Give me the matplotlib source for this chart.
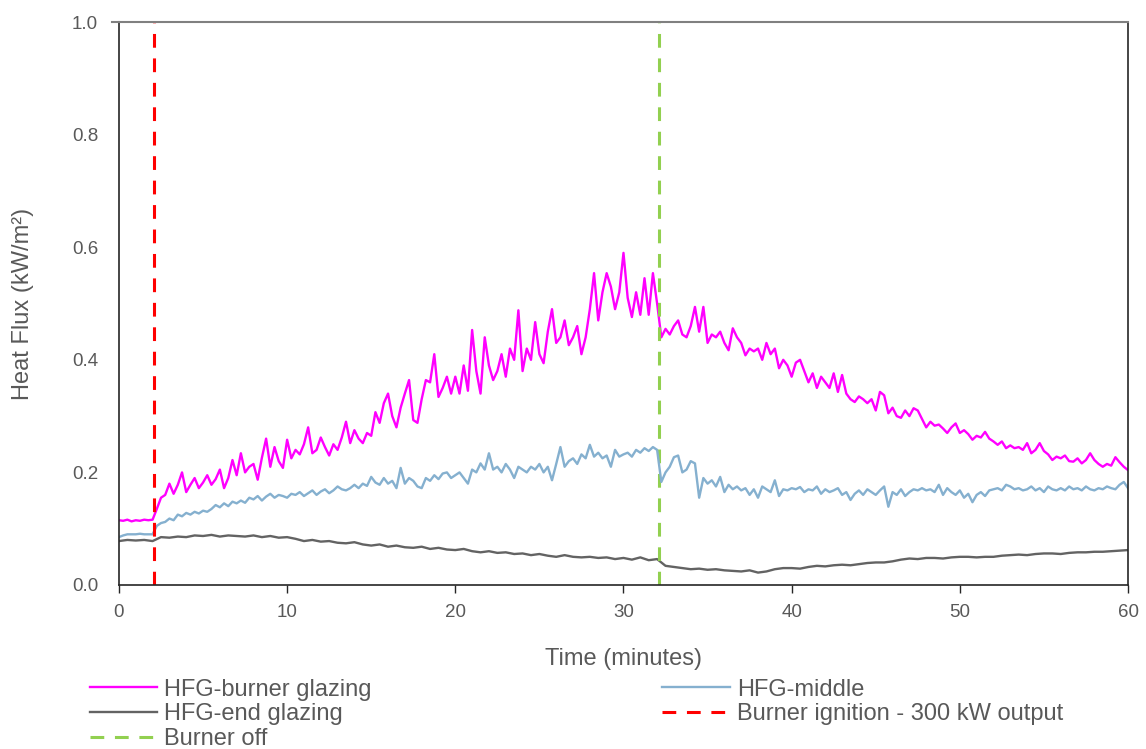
import numpy as np
import matplotlib
matplotlib.use("Agg")
import matplotlib.pyplot as plt

plt.rcParams['font.family'] = ['Liberation Sans', 'DejaVu Sans']

# tiempo (minutos), paso de 0.25 min para las series con mas ruido
t_fino = np.arange(0, 60.01, 0.25)
t_grueso = np.arange(0, 60.01, 0.5)

burner = [
    0.115, 0.114, 0.116, 0.113, 0.115, 0.114, 0.116, 0.115,
    0.116, 0.135, 0.155, 0.160, 0.180, 0.162, 0.178, 0.200,
    0.165, 0.178, 0.190, 0.172, 0.182, 0.195, 0.178, 0.188,
    0.205, 0.172, 0.190, 0.222, 0.195, 0.234, 0.200, 0.210,
    0.215, 0.187, 0.226, 0.260, 0.210, 0.245, 0.220, 0.208,
    0.258, 0.225, 0.240, 0.232, 0.250, 0.280, 0.234, 0.240,
    0.262, 0.245, 0.230, 0.250, 0.240, 0.262, 0.290, 0.252,
    0.275, 0.260, 0.252, 0.270, 0.265, 0.307, 0.288, 0.323,
    0.340, 0.300, 0.280, 0.315, 0.340, 0.364, 0.293, 0.288,
    0.330, 0.364, 0.360, 0.410, 0.334, 0.350, 0.370, 0.340,
    0.370, 0.340, 0.390, 0.345, 0.453, 0.380, 0.340, 0.440,
    0.390, 0.364, 0.380, 0.410, 0.370, 0.420, 0.400, 0.488,
    0.380, 0.420, 0.400, 0.467, 0.410, 0.394, 0.450, 0.490,
    0.430, 0.440, 0.470, 0.426, 0.440, 0.460, 0.410, 0.440,
    0.490, 0.554, 0.470, 0.520, 0.554, 0.530, 0.490, 0.520,
    0.590, 0.510, 0.476, 0.520, 0.480, 0.545, 0.480, 0.554,
    0.500, 0.440, 0.455, 0.445, 0.460, 0.470, 0.445, 0.440,
    0.460, 0.494, 0.450, 0.494, 0.430, 0.445, 0.440, 0.450,
    0.430, 0.417, 0.456, 0.440, 0.430, 0.408, 0.420, 0.415,
    0.420, 0.400, 0.430, 0.410, 0.420, 0.385, 0.400, 0.390,
    0.370, 0.395, 0.400, 0.380, 0.360, 0.376, 0.350, 0.370,
    0.360, 0.350, 0.376, 0.343, 0.373, 0.340, 0.330, 0.325,
    0.335, 0.330, 0.323, 0.330, 0.310, 0.343, 0.337, 0.305,
    0.315, 0.300, 0.297, 0.310, 0.300, 0.314, 0.310, 0.295,
    0.280, 0.290, 0.283, 0.285, 0.278, 0.270, 0.280, 0.287,
    0.270, 0.275, 0.268, 0.258, 0.265, 0.262, 0.272, 0.260,
    0.255, 0.249, 0.255, 0.243, 0.248, 0.243, 0.245, 0.240,
    0.252, 0.234, 0.240, 0.252, 0.238, 0.232, 0.222, 0.228,
    0.225, 0.230, 0.220, 0.219, 0.225, 0.216, 0.222, 0.234,
    0.222, 0.215, 0.210, 0.215, 0.212, 0.227, 0.218, 0.210,
    0.204]

middle = [
    0.085, 0.088, 0.090, 0.090, 0.090, 0.091, 0.090, 0.090,
    0.090, 0.105, 0.110, 0.112, 0.118, 0.115, 0.125, 0.122,
    0.128, 0.125, 0.130, 0.127, 0.132, 0.130, 0.135, 0.142,
    0.138, 0.145, 0.140, 0.148, 0.145, 0.150, 0.146, 0.155,
    0.152, 0.158, 0.150, 0.157, 0.162, 0.155, 0.160, 0.158,
    0.155, 0.162, 0.160, 0.165, 0.158, 0.163, 0.168, 0.160,
    0.166, 0.170, 0.163, 0.168, 0.175, 0.170, 0.168, 0.172,
    0.178, 0.172, 0.180, 0.176, 0.192, 0.182, 0.178, 0.190,
    0.180, 0.185, 0.172, 0.208, 0.180, 0.190, 0.185, 0.175,
    0.172, 0.190, 0.185, 0.195, 0.188, 0.198, 0.200, 0.190,
    0.195, 0.200, 0.190, 0.180, 0.205, 0.200, 0.216, 0.205,
    0.234, 0.205, 0.210, 0.200, 0.215, 0.205, 0.190, 0.210,
    0.205, 0.200, 0.210, 0.205, 0.215, 0.200, 0.210, 0.186,
    0.215, 0.245, 0.210, 0.220, 0.225, 0.215, 0.232, 0.225,
    0.249, 0.228, 0.235, 0.225, 0.230, 0.210, 0.240, 0.228,
    0.232, 0.235, 0.228, 0.240, 0.235, 0.243, 0.238, 0.245,
    0.240, 0.183, 0.200, 0.210, 0.227, 0.230, 0.200, 0.205,
    0.220, 0.216, 0.155, 0.190, 0.180, 0.186, 0.175, 0.192,
    0.165, 0.178, 0.170, 0.175, 0.168, 0.172, 0.160, 0.170,
    0.155, 0.175, 0.170, 0.165, 0.186, 0.158, 0.170, 0.168,
    0.172, 0.170, 0.174, 0.165, 0.170, 0.168, 0.175, 0.162,
    0.170, 0.165, 0.168, 0.172, 0.160, 0.165, 0.151, 0.162,
    0.168, 0.160, 0.170, 0.165, 0.160, 0.168, 0.175, 0.139,
    0.165, 0.160, 0.170, 0.158, 0.165, 0.170, 0.168, 0.172,
    0.168, 0.170, 0.165, 0.178, 0.160, 0.172, 0.165, 0.160,
    0.168, 0.155, 0.162, 0.147, 0.160, 0.165, 0.158, 0.168,
    0.170, 0.172, 0.168, 0.178, 0.175, 0.170, 0.172, 0.168,
    0.170, 0.175, 0.168, 0.172, 0.165, 0.175, 0.170, 0.168,
    0.172, 0.168, 0.175, 0.170, 0.172, 0.168, 0.175, 0.170,
    0.168, 0.172, 0.170, 0.175, 0.172, 0.170, 0.178, 0.183,
    0.172]

end = [
    0.078, 0.080, 0.079, 0.080, 0.078, 0.085, 0.084, 0.086, 0.085, 0.088,
    0.087, 0.089, 0.086, 0.088, 0.087, 0.086, 0.088, 0.085, 0.087, 0.084,
    0.085, 0.082, 0.078, 0.080, 0.077, 0.078, 0.075, 0.074, 0.076, 0.072,
    0.070, 0.072, 0.068, 0.070, 0.067, 0.066, 0.068, 0.064, 0.066, 0.063,
    0.062, 0.064, 0.060, 0.058, 0.060, 0.057, 0.058, 0.055, 0.056, 0.053,
    0.055, 0.052, 0.050, 0.053, 0.050, 0.049, 0.050, 0.048, 0.049, 0.046,
    0.048, 0.045, 0.049, 0.044, 0.046, 0.034, 0.032, 0.030, 0.028, 0.029,
    0.027, 0.028, 0.026, 0.025, 0.024, 0.026, 0.022, 0.024, 0.028, 0.030,
    0.030, 0.029, 0.032, 0.034, 0.033, 0.035, 0.036, 0.035, 0.037, 0.039,
    0.040, 0.040, 0.042, 0.045, 0.047, 0.046, 0.048, 0.048, 0.047, 0.049,
    0.050, 0.050, 0.049, 0.050, 0.050, 0.052, 0.053, 0.054, 0.053, 0.055,
    0.056, 0.056, 0.055, 0.057, 0.058, 0.058, 0.059, 0.059, 0.060, 0.061,
    0.062]

t_ignicion = 2.1
t_apagado = 32.1

gris = "#595959"

fig = plt.figure(figsize=(11.46, 7.49), dpi=100)
ax = fig.add_axes([0.1038, 0.219, 0.8805, 0.7515])

ax.plot(t_fino, burner, color="#ff00ff", lw=1.7, label="HFG-burner glazing")
ax.plot(t_grueso, end, color="#636363", lw=1.7, label="HFG-end glazing")
ax.axvline(t_apagado, color="#92d050", lw=2.2, ls=(0, (4.5, 3.5)), label="Burner off")
ax.plot(t_fino, middle, color="#85b0cf", lw=1.7, label="HFG-middle")
ax.axvline(t_ignicion, color="#ff0000", lw=2.2, ls=(0, (4.5, 3.5)),
           label="Burner ignition - 300 kW output")

ax.set_xlim(0, 60)
ax.set_ylim(0, 1.0)
ax.set_xticks(range(0, 61, 10))
ax.set_yticks(np.arange(0, 1.01, 0.2))
ax.yaxis.set_major_formatter(matplotlib.ticker.FormatStrFormatter("%.1f"))

# marco
ax.spines["top"].set_color("#808080")
ax.spines["top"].set_linewidth(1.5)
for lado in ["left", "right", "bottom"]:
    ax.spines[lado].set_color("#262626")
    ax.spines[lado].set_linewidth(1.2)
ax.plot([-0.4, 0], [1.0, 1.0], color="#808080", lw=1.5, clip_on=False)

ax.tick_params(axis="both", labelsize=13.5, colors=gris, length=6, width=1, pad=8)
ax.tick_params(axis="y", length=0, pad=15)
ax.tick_params(axis="x", color="#262626")

ax.set_xlabel("Time (minutes)", fontsize=17, color=gris, labelpad=19)
ax.set_ylabel("Heat Flux (kW/m²)", fontsize=17, color=gris, labelpad=27)

leg = fig.legend(loc="lower left", bbox_to_anchor=(0.060, -0.030), ncol=2,
                 frameon=False, fontsize=17, handlelength=2.85, handletextpad=0.3,
                 columnspacing=12.3, labelspacing=0.12)
for txt in leg.get_texts():
    txt.set_color(gris)

fig.savefig("out.png", dpi=100)
